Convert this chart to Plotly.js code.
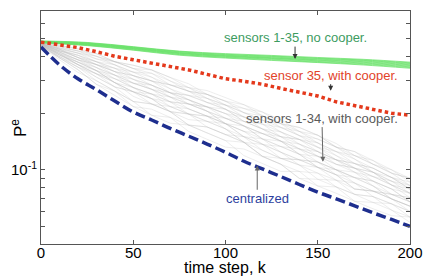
<!DOCTYPE html>
<html><head><meta charset="utf-8">
<script src="https://cdn.plot.ly/plotly-3.0.1.min.js"></script>
<style>html,body{margin:0;padding:0;background:#fff}#chart{width:429px;height:277px}</style>
</head><body><div id="chart"></div>
<script>
// time steps k for the sampled curves
const timeSteps = [0,10,20,30,40,50,60,70,80,90,100,110,120,130,140,150,160,170,180,190,200];
const greenSteps = [0,25,50,75,100,125,150,175,200];

// centralized detector
const centralized = [0.45,0.362,0.305,0.267,0.232,0.203,0.184,0.166,0.151,0.137,0.124,0.111,0.101,0.092,0.0835,0.076,0.070,0.0643,0.059,0.0544,0.050];
// sensor 35, with cooperation
const sensor35Coop = [0.478,0.462,0.447,0.425,0.402,0.385,0.370,0.355,0.340,0.322,0.305,0.296,0.285,0.271,0.258,0.247,0.230,0.220,0.209,0.200,0.195];

// sensors 1-35, no cooperation (band)
const noCoop01 = [0.474,0.458,0.433,0.407,0.393,0.382,0.372,0.361,0.347];
const noCoop02 = [0.475,0.460,0.435,0.410,0.396,0.385,0.374,0.364,0.350];
const noCoop03 = [0.476,0.462,0.438,0.412,0.398,0.388,0.377,0.367,0.353];
const noCoop04 = [0.477,0.464,0.440,0.415,0.401,0.391,0.380,0.370,0.356];
const noCoop05 = [0.479,0.466,0.442,0.417,0.403,0.393,0.383,0.373,0.359];
const noCoop06 = [0.480,0.468,0.444,0.419,0.405,0.395,0.385,0.376,0.362];
const noCoop07 = [0.481,0.470,0.446,0.421,0.407,0.398,0.388,0.379,0.365];
const noCoop08 = [0.482,0.472,0.448,0.424,0.410,0.401,0.391,0.382,0.368];
const noCoop09 = [0.483,0.474,0.450,0.426,0.412,0.403,0.393,0.384,0.371];
const noCoop10 = [0.485,0.476,0.452,0.428,0.415,0.406,0.396,0.387,0.374];

// sensors 1-34, with cooperation
const coop01 = [.455,.385,.330,.298,.262,.217,.195,.177,.173,.157,.143,.119,.108,.098,.098,.082,.075,.068,.067,.061,.0525];
const coop02 = [.457,.393,.341,.285,.262,.231,.224,.204,.173,.157,.143,.140,.118,.107,.090,.089,.081,.074,.072,.061,.056];
const coop03 = [.457,.400,.352,.298,.262,.231,.195,.190,.173,.169,.154,.140,.118,.107,.098,.096,.088,.074,.067,.066,.060];
const coop04 = [.460,.400,.352,.324,.291,.246,.224,.204,.173,.169,.154,.150,.137,.115,.106,.096,.081,.074,.072,.066,.060];
const coop05 = [.460,.393,.352,.311,.276,.260,.239,.204,.185,.181,.165,.140,.127,.115,.113,.103,.094,.079,.077,.070,.064];
const coop06 = [.460,.408,.363,.311,.276,.231,.224,.217,.198,.169,.154,.140,.118,.115,.106,.089,.088,.085,.072,.066,.056];
const coop07 = [.462,.408,.363,.337,.291,.260,.239,.204,.198,.181,.176,.160,.137,.124,.113,.110,.100,.085,.077,.074,.0675];
const coop08 = [.462,.400,.363,.324,.291,.274,.253,.230,.198,.181,.165,.140,.137,.133,.121,.103,.094,.091,.082,.070,.064];
const coop09 = [.462,.415,.363,.324,.276,.260,.239,.217,.211,.193,.165,.150,.137,.124,.106,.103,.094,.079,.077,.070,.060];
const coop10 = [.464,.415,.374,.350,.305,.274,.239,.230,.211,.193,.188,.171,.146,.133,.121,.103,.100,.091,.087,.079,.0675];
const coop11 = [.464,.408,.374,.337,.305,.289,.268,.244,.211,.193,.176,.150,.146,.142,.129,.118,.100,.091,.082,.070,.064];
const coop12 = [.464,.423,.385,.337,.291,.260,.253,.230,.224,.205,.176,.160,.146,.124,.113,.110,.100,.097,.082,.074,.071];
const coop13 = [.464,.415,.363,.324,.305,.274,.253,.217,.198,.193,.176,.171,.156,.142,.121,.110,.094,.085,.077,.074,.0675];
const coop14 = [.467,.423,.385,.363,.333,.289,.268,.230,.224,.205,.188,.181,.165,.142,.129,.118,.113,.102,.087,.079,.075];
const coop15 = [.467,.415,.385,.350,.319,.274,.253,.244,.224,.216,.199,.171,.156,.142,.137,.125,.107,.097,.087,.074,.071];
const coop16 = [.467,.430,.396,.350,.319,.303,.282,.257,.224,.205,.176,.160,.156,.142,.121,.118,.107,.102,.092,.083,.071];
const coop17 = [.467,.423,.374,.337,.319,.289,.268,.257,.236,.205,.188,.171,.146,.133,.129,.110,.100,.091,.087,.079,.0675];
const coop18 = [.469,.430,.396,.376,.347,.303,.282,.244,.224,.216,.199,.181,.175,.159,.137,.125,.113,.097,.092,.083,.079];
const coop19 = [.469,.438,.396,.363,.319,.289,.282,.257,.249,.228,.210,.181,.165,.150,.145,.132,.119,.102,.092,.087,.079];
const coop20 = [.469,.423,.385,.363,.333,.317,.297,.257,.236,.216,.188,.171,.156,.150,.137,.118,.107,.102,.097,.083,.075];
const coop21 = [.469,.430,.407,.376,.333,.303,.268,.244,.236,.216,.199,.191,.175,.150,.129,.125,.113,.108,.097,.087,.075];
const coop22 = [.471,.438,.407,.363,.347,.317,.297,.283,.262,.228,.210,.191,.165,.150,.145,.132,.125,.114,.097,.087,.0825];
const coop23 = [.471,.445,.418,.376,.347,.331,.311,.270,.249,.228,.221,.201,.184,.159,.145,.139,.119,.108,.097,.091,.079];
const coop24 = [.471,.430,.407,.376,.362,.317,.282,.257,.249,.240,.221,.191,.175,.168,.152,.132,.113,.102,.097,.083,.075];
const coop25 = [.471,.438,.396,.363,.333,.317,.297,.270,.236,.216,.210,.181,.165,.159,.145,.125,.113,.108,.102,.091,.079];
const coop26 = [.473,.445,.418,.402,.362,.331,.326,.297,.262,.240,.221,.212,.194,.168,.152,.146,.132,.114,.102,.091,.086];
const coop27 = [.473,.453,.429,.389,.362,.331,.297,.283,.262,.252,.232,.201,.184,.168,.160,.139,.125,.119,.107,.096,.0825];
const coop28 = [.473,.438,.418,.389,.376,.346,.311,.283,.274,.240,.210,.191,.184,.176,.152,.139,.125,.108,.102,.091,.0825];
const coop29 = [.476,.453,.429,.415,.376,.346,.326,.283,.262,.252,.232,.212,.203,.185,.160,.146,.132,.125,.107,.096,.090];
const coop30 = [.476,.445,.429,.402,.376,.360,.340,.297,.274,.252,.221,.201,.194,.176,.160,.153,.132,.119,.107,.100,.086];
const coop31 = [.476,.460,.440,.402,.376,.346,.340,.310,.287,.252,.232,.222,.194,.176,.168,.153,.138,.119,.112,.100,.090];
const coop32 = [.478,.460,.440,.415,.376,.360,.340,.310,.274,.264,.243,.222,.203,.176,.168,.153,.132,.125,.112,.096,.090];
const coop33 = [.462,.408,.374,.337,.291,.260,.224,.204,.198,.193,.176,.150,.127,.115,.113,.103,.088,.079,.077,.070,.064];
const coop34 = [.455,.393,.341,.285,.248,.217,.210,.190,.160,.145,.132,.129,.118,.107,.090,.082,.081,.068,.062,.057,.056];

// axis ticks
const xTickVals = [0,50,100,150,200];
const yTickVals = [0.1];
const yTickText = ['10<sup>-1</sup>'];
const yMinorTickVals = [0.05,0.06,0.07,0.08,0.09,0.2,0.3,0.4,0.5,0.6,0.7];

const coopSeries = [coop01,coop02,coop03,coop04,coop05,coop06,coop07,coop08,coop09,coop10,coop11,coop12,
  coop13,coop14,coop15,coop16,coop17,coop18,coop19,coop20,coop21,coop22,coop23,coop24,coop25,coop26,
  coop27,coop28,coop29,coop30,coop31,coop32,coop33,coop34];
const noCoopSeries = [noCoop01,noCoop02,noCoop03,noCoop04,noCoop05,noCoop06,noCoop07,noCoop08,noCoop09,noCoop10];

const traces = [];
coopSeries.forEach((s, i) => traces.push({
  x: timeSteps, y: s, mode: 'lines', name: 'sensor ' + (i + 1) + ', with cooper.',
  line: {color: 'rgba(185,185,185,0.36)', width: 0.7}, hoverinfo: 'skip'
}));
noCoopSeries.forEach((s, i) => traces.push({
  x: greenSteps, y: s, mode: 'lines', name: 'no cooper. ' + (i + 1),
  line: {color: 'rgba(100,224,100,0.8)', width: 0.9, shape: 'spline'}, hoverinfo: 'skip'
}));
traces.push({x: timeSteps, y: sensor35Coop, mode: 'lines', name: 'sensor 35, with cooper.',
  line: {color: '#e4391c', width: 3.5, dash: '3.5px,3px'}});
traces.push({x: timeSteps, y: centralized, mode: 'lines', name: 'centralized',
  line: {color: '#1e2e8e', width: 3.5, dash: '10px,4.5px', shape: 'spline'}});

const font = 'Liberation Sans, Arial, Helvetica, sans-serif';
const annFont = 13;
const layout = {
  width: 429, height: 277,
  margin: {l: 41, r: 19, t: 11, b: 33},
  paper_bgcolor: '#ffffff', plot_bgcolor: '#ffffff',
  showlegend: false,
  font: {family: font, color: '#000'},
  xaxis: {
    range: [0, 200], tickmode: 'array', tickvals: xTickVals,
    ticks: 'inside', ticklen: 4, tickcolor: '#555', showline: true, linecolor: '#555', linewidth: 1,
    mirror: 'ticks', showgrid: false, zeroline: false, tickfont: {size: 15}, ticklabelstandoff: -5
  },
  yaxis: {
    type: 'log', range: [-1.395, -0.155], tickmode: 'array', tickvals: yTickVals, ticktext: yTickText,
    ticks: 'inside', ticklen: 4, tickcolor: '#555', showline: true, linecolor: '#555', linewidth: 1,
    mirror: 'ticks', showgrid: false, zeroline: false, tickfont: {size: 15},
    minor: {tickmode: 'array', tickvals: yMinorTickVals, ticks: 'inside', ticklen: 4, tickcolor: '#555', showgrid: false}
  },
  annotations: [
    {xref: 'paper', yref: 'paper', x: -0.061, y: 0.5, text: 'P<sup>e</sup>', textangle: -90,
     showarrow: false, font: {size: 17}, xanchor: 'center', yanchor: 'middle'},
    {xref: 'paper', yref: 'paper', x: 0.5, y: -0.102, text: 'time step, k', showarrow: false,
     font: {size: 16}, xanchor: 'center', yanchor: 'middle', borderpad: 0},
    {x: 137.7, y: -0.411, text: 'sensors 1-35, no cooper.', showarrow: true, ax: 0, ay: -21.5,
     font: {size: annFont, color: '#3d9c5f'}, arrowhead: 2, arrowsize: 1, arrowwidth: 1, arrowcolor: '#333'},
    {x: 157, y: -0.58, text: 'sensor 35, with cooper.', showarrow: true, ax: 0, ay: -15.7,
     font: {size: annFont, color: '#e2432a'}, arrowhead: 2, arrowsize: 1, arrowwidth: 1, arrowcolor: '#333'},
    {x: 152.8, y: -0.9575, text: 'sensors 1-34, with cooper.', showarrow: true, ax: -1, ay: -43.7,
     font: {size: annFont, color: '#5a5a5a'}, arrowhead: 2, arrowsize: 1, arrowwidth: 1, arrowcolor: '#666'},
    {x: 117.2, y: -0.9766, text: 'centralized', showarrow: true, ax: 0, ay: 33.4,
     font: {size: annFont, color: '#2e3f9e'}, arrowhead: 2, arrowsize: 1, arrowwidth: 1, arrowcolor: '#666'}
  ]
};
Plotly.newPlot('chart', traces, layout, {staticPlot: true, displayModeBar: false});
</script></body></html>
